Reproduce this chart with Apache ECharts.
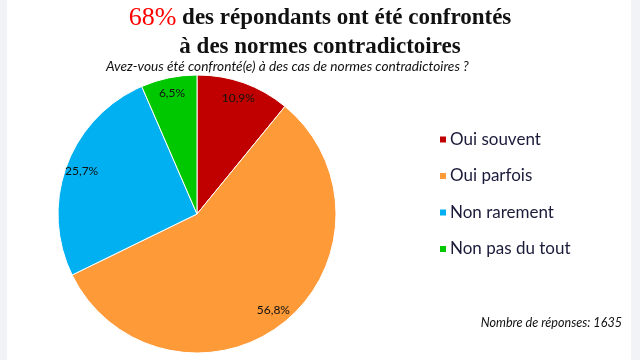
<!DOCTYPE html>
<html><head><meta charset="utf-8">
<script src="https://cdn.jsdelivr.net/npm/echarts@6/dist/echarts.min.js"></script>
<style>html,body{margin:0;padding:0;background:#fff}#c{width:640px;height:360px}</style>
</head><body><div id="c"></div>
<script>
const categories = ["Oui souvent", "Oui parfois", "Non rarement", "Non pas du tout"];
const values = [10.9, 56.8, 25.7, 6.5];
const colors = ["#c00000", "#ff9a38", "#00b0f0", "#00c800"];
const titleHighlight = "68%";
const titleRest = " des répondants ont été confrontés";
const titleLine2 = "à des normes contradictoires";
const subtitle = "Avez-vous été confronté(e) à des cas de normes contradictoires ?";
const footnote = "Nombre de réponses: 1635";

const data = categories.map((n, i) => ({ name: n, value: values[i], itemStyle: { color: colors[i] } }));
const fmt = p => p.value.toFixed(1).replace('.', ',') + '%';

const chart = echarts.init(document.getElementById('c'));
chart.setOption({
  backgroundColor: '#ffffff',
  animation: false,
  graphic: [
    { type: 'rect', left: 0, top: 0, shape: { width: 7, height: 360 }, style: { fill: '#f1f3f6' }, z: -10 },
    { type: 'rect', right: 0, top: 0, shape: { width: 9, height: 360 }, style: { fill: '#f1f3f7' }, z: -10 },
    {
      type: 'text', left: 'center', top: 5,
      style: {
        text: '{r|' + titleHighlight + '}{b|' + titleRest + '}',
        fontFamily: '"Liberation Serif", "DejaVu Serif", serif',
        rich: {
          r: { fontFamily: '"Liberation Serif", serif', fontSize: 26, fill: '#ff0000', fontWeight: 'normal' },
          b: { fontFamily: '"Liberation Serif", serif', fontSize: 23, fill: '#111111', fontWeight: 'bold' }
        }
      }
    },
    {
      type: 'text', left: 'center', top: 36,
      style: { text: titleLine2, fontFamily: '"Liberation Serif", serif', fontSize: 23, fontWeight: 'bold', fill: '#111111' }
    },
    {
      type: 'text', left: 106, top: 60,
      style: { text: subtitle, fontFamily: 'Lato', fontStyle: 'italic', fontSize: 13.7, fill: '#111111' }
    },
    {
      type: 'text', right: 18, top: 316,
      style: { text: footnote, fontFamily: 'Lato', fontStyle: 'italic', fontSize: 12.6, fill: '#111111' }
    }
  ],
  legend: {
    orient: 'vertical', left: 433, top: 126,
    data: categories,
    icon: 'rect', itemWidth: 8, itemHeight: 8, itemGap: 19.5,
    textStyle: { fontFamily: 'Lato', fontSize: 17, color: '#1a1a3a', padding: [0, 0, 0, -2] }
  },
  series: [
    {
      type: 'pie', center: [197, 214], radius: [0, 139], startAngle: 90, clockwise: true,
      silent: true,
      itemStyle: { borderColor: '#ffffff', borderWidth: 1 },
      label: { show: false }, labelLine: { show: false },
      data: data
    },
    {
      type: 'pie', center: [197, 214], radius: [101, 139], startAngle: 90, clockwise: true,
      silent: true, legendHoverLink: false,
      itemStyle: { color: 'rgba(0,0,0,0)', borderWidth: 0 },
      label: { show: true, position: 'inside', formatter: fmt, fontFamily: 'Lato', fontSize: 12, color: '#111111' },
      labelLine: { show: false },
      data: values.map((v, i) => ({ name: categories[i] + ' ', value: v, itemStyle: { color: 'rgba(0,0,0,0)' } }))
    }
  ]
});
</script></body></html>
